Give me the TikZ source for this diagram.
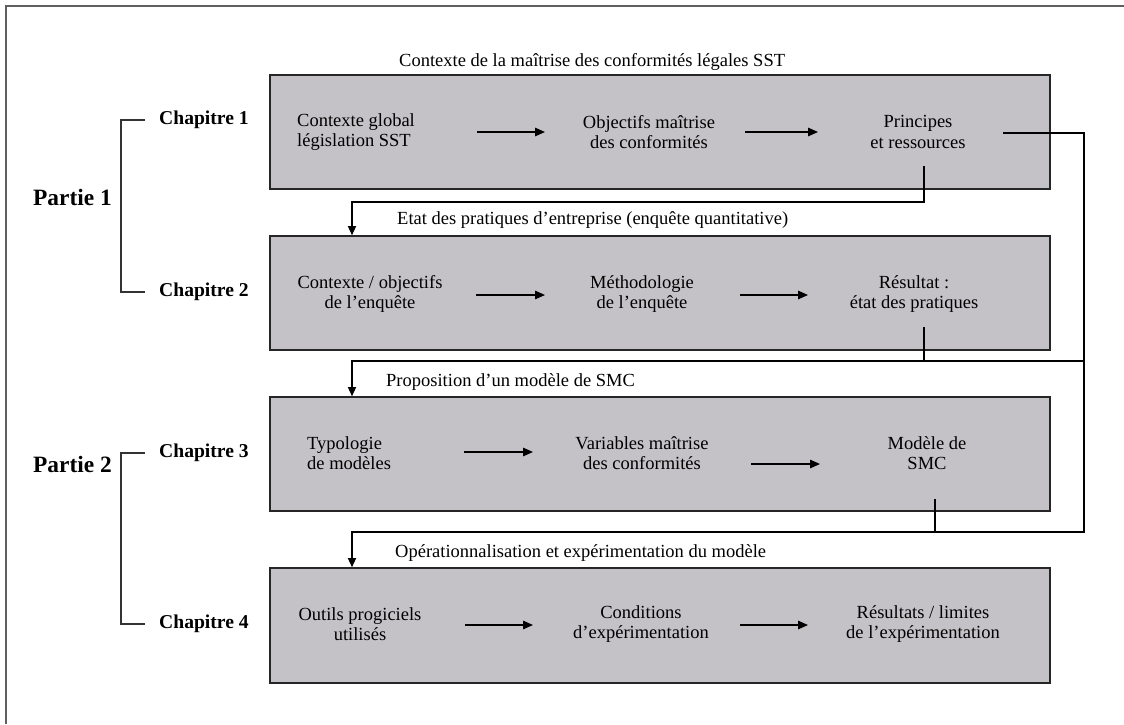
\documentclass[tikz,border=0pt]{standalone}
\usepackage{fontspec}
\setmainfont{Liberation Serif}
\usetikzlibrary{arrows.meta}
\definecolor{boxfill}{RGB}{196,194,198}
\definecolor{framegray}{RGB}{95,95,95}
\begin{document}
\begin{tikzpicture}[x=1pt,y=-1pt,
  chapbox/.style={draw=black!85, line width=1.6pt, fill=boxfill, minimum width=780pt, inner sep=0pt},
  body/.style={font=\fontsize{18.5}{20.5}\selectfont, inner sep=0pt, align=center},
  title/.style={font=\fontsize{18.5}{20.5}\selectfont, inner sep=0pt, anchor=west},
  chap/.style={font=\bfseries\fontsize{19.6}{22}\selectfont, inner sep=0pt, anchor=west},
  part/.style={font=\bfseries\fontsize{23.4}{27}\selectfont, inner sep=0pt, anchor=west},
  flow/.style={line width=1.4pt, -{Triangle[length=10pt,width=8.5pt]}},
  link/.style={line width=1.3pt},
  drop/.style={line width=1.3pt, -{Triangle[length=9pt,width=8pt]}},
  bracket/.style={line width=1.2pt, draw=black!80}
]
\useasboundingbox (0,0) rectangle (1124,724);
\fill[white] (0,0) rectangle (1124,724);
\draw[framegray, line width=2pt] (6,724) -- (6,6) -- (1124,6);

% chapter boxes
\node[chapbox, minimum height=114pt] (b1) at (660,132) {};
\node[chapbox, minimum height=114pt] (b2) at (660,293) {};
\node[chapbox, minimum height=114pt] (b3) at (660,454) {};
\node[chapbox, minimum height=115pt] (b4) at (660,625.5) {};

% box titles
\node[title] (t1) at (399,62) {Contexte de la maîtrise des conformités légales SST};
\node[title] (t2) at (397,220) {Etat des pratiques d’entreprise (enquête quantitative)};
\node[title] (t3) at (386,382) {Proposition d’un modèle de SMC};
\node[title] (t4) at (395,553) {Opérationnalisation et expérimentation du modèle};

% box contents
\node[body, align=left, anchor=west] (r1a) at (297,132) {Contexte global\\législation SST};
\node[body] (r1b) at (649,132) {Objectifs maîtrise\\des conformités};
\node[body] (r1c) at (918,132) {Principes\\et ressources};

\node[body] (r2a) at (370,294) {Contexte / objectifs\\de l’enquête};
\node[body] (r2b) at (642,294) {Méthodologie\\de l’enquête};
\node[body] (r2c) at (914,294) {Résultat :\\état des pratiques};

\node[body, align=left, anchor=west] (r3a) at (307,453) {Typologie\\de modèles};
\node[body] (r3b) at (642,453) {Variables maîtrise\\des conformités};
\node[body] (r3c) at (927,453) {Modèle de\\SMC};

\node[body] (r4a) at (360,624) {Outils progiciels\\utilisés};
\node[body] (r4b) at (641,624) {Conditions\\d’expérimentation};
\node[body] (r4c) at (923,624) {Résultats / limites\\de l’expérimentation};

% arrows inside the boxes
\coordinate (p11) at (477,132); \coordinate (q11) at (545,132);
\coordinate (p12) at (745,132); \coordinate (q12) at (818,132);
\coordinate (p21) at (476,295); \coordinate (q21) at (545,295);
\coordinate (p22) at (740,295); \coordinate (q22) at (808,295);
\coordinate (p31) at (464,452); \coordinate (q31) at (533,452);
\coordinate (p32) at (751,464); \coordinate (q32) at (820,464);
\coordinate (p41) at (465,625); \coordinate (q41) at (533,625);
\coordinate (p42) at (740,625); \coordinate (q42) at (808,625);
\foreach \r in {1,2,3,4}{
  \draw[flow] (p\r1) -- (q\r1);
  \draw[flow] (p\r2) -- (q\r2);
}

% links between the boxes
\coordinate (s1) at (924,166); \coordinate (k1) at (352,202);
\coordinate (s2) at (924,327); \coordinate (k2) at (352,361);
\coordinate (s3) at (935,499); \coordinate (k3) at (352,532);
\coordinate (s4) at (1003,133); \coordinate (e4) at (1084,532);

\draw[drop] (s1) |- (k1) -- (k1 |- b2.north);
\draw[link] (s2) -- (s2 |- k2);
\draw[drop] (e4 |- k2) -- (k2) -- (k2 |- b3.north);
\draw[drop] (s3) |- (k3) -- (k3 |- b4.north);
\draw[link] (s4) -| (e4) -- (k3);

% parts and chapters
\node[chap] (ch1) at (159,120) {Chapitre 1};
\node[chap] (ch2) at (159,292) {Chapitre 2};
\node[chap] (ch3) at (159,453) {Chapitre 3};
\node[chap] (ch4) at (159,624) {Chapitre 4};
\node[part] (pa1) at (33,197) {Partie 1};
\node[part] (pa2) at (33,464) {Partie 2};

\draw[bracket] ([xshift=-14pt]ch1.west) -- ++(-24,0) |- ([xshift=-14pt]ch2.west);
\draw[bracket] ([xshift=-14pt]ch3.west) -- ++(-24,0) |- ([xshift=-14pt]ch4.west);
\end{tikzpicture}
\end{document}
